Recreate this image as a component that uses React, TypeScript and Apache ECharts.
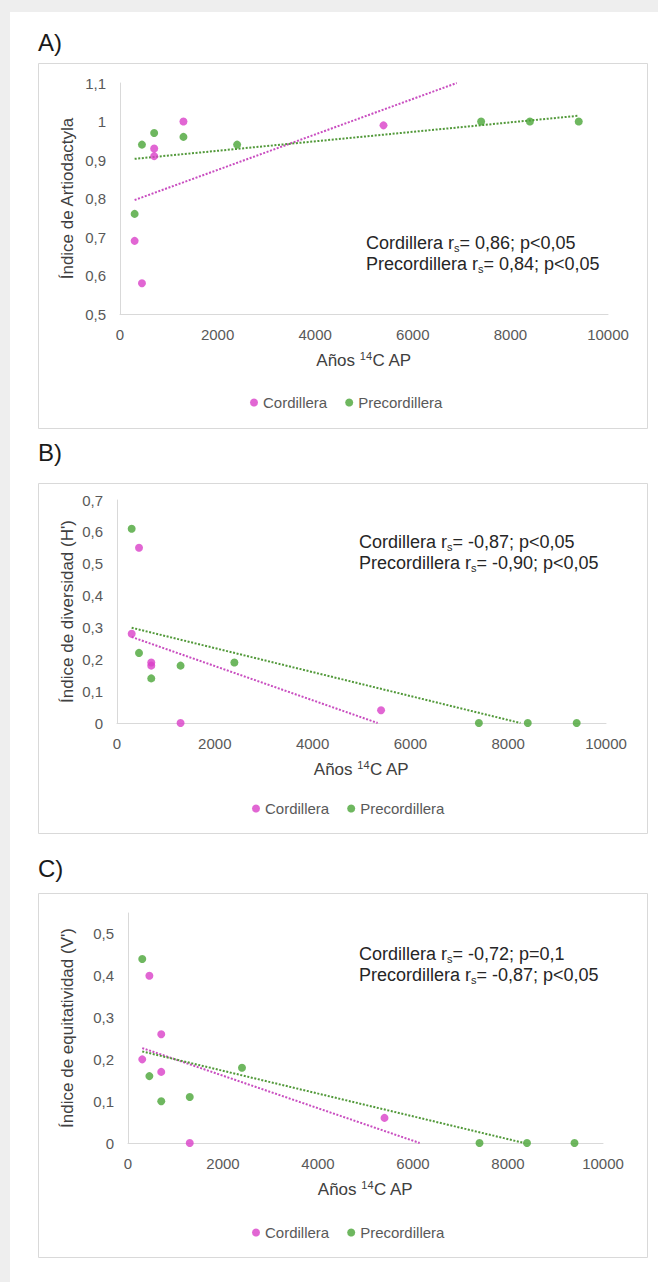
import React, { useEffect, useRef } from "react";
import * as echarts from "echarts";

// ---------- DATA ----------
const cordilleraYears = [300, 450, 700, 700, 1300, 5400];
const precordilleraYears = [300, 450, 700, 1300, 2400, 7400, 8400, 9400];

const cordilleraArtiodactyla = [0.69, 0.58, 0.93, 0.91, 1.0, 0.99];
const precordilleraArtiodactyla = [0.76, 0.94, 0.97, 0.96, 0.94, 1.0, 1.0, 1.0];

const cordilleraDiversidad = [0.28, 0.55, 0.19, 0.18, 0, 0.04];
const precordilleraDiversidad = [0.61, 0.22, 0.14, 0.18, 0.19, 0, 0, 0];

const cordilleraEquitatividad = [0.2, 0.4, 0.26, 0.17, 0, 0.06];
const precordilleraEquitatividad = [0.44, 0.16, 0.1, 0.11, 0.18, 0, 0, 0];

// trend line end points
const trendCordilleraA = [[300, 0.796], [6900, 1.1]];
const trendPrecordilleraA = [[300, 0.903], [9400, 1.015]];
const trendCordilleraB = [[300, 0.27], [5330, 0]];
const trendPrecordilleraB = [[300, 0.299], [8250, 0]];
const trendCordilleraC = [[300, 0.227], [6140, 0]];
const trendPrecordilleraC = [[300, 0.219], [8340, 0]];

const panelLabels = ["A)", "B)", "C)"];
const yTitles = ["Índice de Artiodactyla", "Índice de diversidad (H')", "Índice de equitatividad (V')"];
const annotationsCordillera = ["= 0,86; p<0,05", "= -0,87; p<0,05", "= -0,72; p=0,1"];
const annotationsPrecordillera = ["= 0,84; p<0,05", "= -0,90; p<0,05", "= -0,87; p<0,05"];
const seriesNames = ["Cordillera", "Precordillera"];

// ---------- STYLE ----------
const FONT = "'Liberation Sans', Arial, sans-serif";
const PINK = "#d940c8";
const GREEN = "#4aa537";
const PINK_LINE = "#c94ec0";
const GREEN_LINE = "#52993a";
const AXIS_COLOR = "#d9d9d9";
const LABEL_COLOR = "#595959";

const pair = (xs: number[], ys: number[]) => xs.map((x, i) => [x, ys[i]]);

const fmt = (v: number) => String(Math.round(v * 100) / 100).replace(".", ",");

export default function App() {
  const ref = useRef<HTMLDivElement>(null);

  useEffect(() => {
    if (!ref.current) return;
    const chart = echarts.init(ref.current, undefined, { renderer: "svg" });

    const grids = [
      { left: 120, top: 83, width: 488, height: 231 },
      { left: 117, top: 500, width: 489, height: 223 },
      { left: 128, top: 913, width: 475, height: 230 },
    ];
    const yRanges = [
      { min: 0.5, max: 1.1 },
      { min: 0, max: 0.7 },
      { min: 0, max: 0.55 },
    ];
    const boxes = [
      { y: 63, h: 365 },
      { y: 483, h: 350 },
      { y: 893, h: 364 },
    ];
    const labelY = [42, 452, 868];
    const legendTop = [395, 801, 1225];
    const legendLeft = [250, 252, 252];
    const annot = [
      { x: 366, y: 243 },
      { x: 359, y: 542 },
      { x: 359, y: 954 },
    ];

    const xAxes = grids.map((_, i) => ({
      type: "value",
      gridIndex: i,
      min: 0,
      max: 10000,
      interval: 2000,
      axisLine: { show: true, lineStyle: { color: AXIS_COLOR, width: 1 } },
      axisTick: { show: false },
      splitLine: { show: false },
      axisLabel: {
        color: LABEL_COLOR,
        fontSize: 15,
        fontFamily: FONT,
        margin: 13,
        formatter: (v: number) => String(v),
      },
    }));
    const yAxes = grids.map((_, i) => ({
      type: "value",
      gridIndex: i,
      min: yRanges[i].min,
      max: yRanges[i].max,
      interval: 0.1,
      axisLine: { show: true, lineStyle: { color: AXIS_COLOR, width: 1 } },
      axisTick: { show: false },
      splitLine: { show: false },
      axisLabel: {
        color: LABEL_COLOR,
        fontSize: 15,
        fontFamily: FONT,
        margin: 14,
        showMaxLabel: i !== 2,
        formatter: (v: number) => fmt(v),
      },
    }));

    const scatterData = [
      [pair(cordilleraYears, cordilleraArtiodactyla), pair(precordilleraYears, precordilleraArtiodactyla)],
      [pair(cordilleraYears, cordilleraDiversidad), pair(precordilleraYears, precordilleraDiversidad)],
      [pair(cordilleraYears, cordilleraEquitatividad), pair(precordilleraYears, precordilleraEquitatividad)],
    ];
    const trends = [
      [trendCordilleraA, trendPrecordilleraA],
      [trendCordilleraB, trendPrecordilleraB],
      [trendCordilleraC, trendPrecordilleraC],
    ];

    const series: any[] = [];
    for (let i = 0; i < 3; i++) {
      [PINK_LINE, GREEN_LINE].forEach((c, k) => {
        series.push({
          name: "Tendencia " + seriesNames[k] + " " + i,
          type: "line",
          xAxisIndex: i,
          yAxisIndex: i,
          data: trends[i][k],
          showSymbol: false,
          symbol: "none",
          silent: true,
          z: 1,
          lineStyle: { color: c, width: 2, type: [2, 1.6] },
        });
      });
      [PINK, GREEN].forEach((c, k) => {
        series.push({
          name: seriesNames[k],
          type: "scatter",
          xAxisIndex: i,
          yAxisIndex: i,
          data: scatterData[i][k],
          symbol: "circle",
          symbolSize: 8,
          itemStyle: { color: c },
          z: 3,
        });
      });
    }

    const richAnnot = {
      s: { fontSize: 11, fontFamily: FONT, fill: "#262626", verticalAlign: "bottom", lineHeight: 11 },
    };

    const graphic: any[] = [
      { type: "rect", shape: { x: 0, y: 0, width: 658, height: 1282 }, style: { fill: "#eeeeee" }, silent: true, z: -10 },
      { type: "rect", shape: { x: 10, y: 12, width: 648, height: 1270 }, style: { fill: "#ffffff" }, silent: true, z: -9 },
    ];
    for (let i = 0; i < 3; i++) {
      graphic.push({
        type: "rect",
        shape: { x: 38.5, y: boxes[i].y + 0.5, width: 609, height: boxes[i].h },
        style: { fill: "#ffffff", stroke: "#d9d9d9", lineWidth: 1 },
        silent: true,
        z: -8,
      });
      graphic.push({
        type: "text",
        x: 38,
        y: labelY[i],
        style: { text: panelLabels[i], fontSize: 24, fontFamily: FONT, fill: "#1a1a1a", align: "left", verticalAlign: "middle" },
      });
      // y axis title
      graphic.push({
        type: "text",
        x: 67,
        y: grids[i].top + grids[i].height / 2,
        rotation: Math.PI / 2,
        style: { text: yTitles[i], fontSize: 17, fontFamily: FONT, fill: "#404040", align: "center", verticalAlign: "middle" },
      });
      // x axis title
      graphic.push({
        type: "text",
        x: grids[i].left + grids[i].width / 2,
        y: grids[i].top + grids[i].height + 46,
        style: {
          text: "Años {sup|14}C AP",
          fontSize: 17,
          fontFamily: FONT,
          fill: "#404040",
          align: "center",
          verticalAlign: "middle",
          lineHeight: 20,
          rich: { sup: { fontSize: 11, fontFamily: FONT, fill: "#404040", verticalAlign: "top", lineHeight: 12 } },
        },
      });
      // annotation
      graphic.push({
        type: "text",
        x: annot[i].x,
        y: annot[i].y,
        style: {
          text: "Cordillera r{s|s}" + annotationsCordillera[i],
          fontSize: 18,
          fontFamily: FONT,
          fill: "#262626",
          align: "left",
          verticalAlign: "middle",
          lineHeight: 21,
          rich: richAnnot,
        },
      });
      graphic.push({
        type: "text",
        x: annot[i].x,
        y: annot[i].y + 21,
        style: {
          text: "Precordillera r{s|s}" + annotationsPrecordillera[i],
          fontSize: 18,
          fontFamily: FONT,
          fill: "#262626",
          align: "left",
          verticalAlign: "middle",
          lineHeight: 21,
          rich: richAnnot,
        },
      });
    }

    const legends = [0, 1, 2].map((i) => ({
      left: legendLeft[i],
      top: legendTop[i],
      orient: "horizontal",
      icon: "circle",
      itemWidth: 8,
      itemHeight: 8,
      itemGap: 18,
      padding: 0,
      selectedMode: false,
      data: seriesNames,
      textStyle: { fontSize: 15, color: LABEL_COLOR, fontFamily: FONT },
    }));

    chart.setOption({
      animation: false,
      backgroundColor: "#ffffff",
      textStyle: { fontFamily: FONT },
      grid: grids.map((g) => ({ ...g, containLabel: false })),
      xAxis: xAxes,
      yAxis: yAxes,
      legend: legends,
      graphic,
      series,
    });

    return () => chart.dispose();
  }, []);

  return (
    <div
      ref={ref}
      style={{ position: "absolute", left: 0, top: 0, width: 658, height: 1282 }}
    />
  );
}
